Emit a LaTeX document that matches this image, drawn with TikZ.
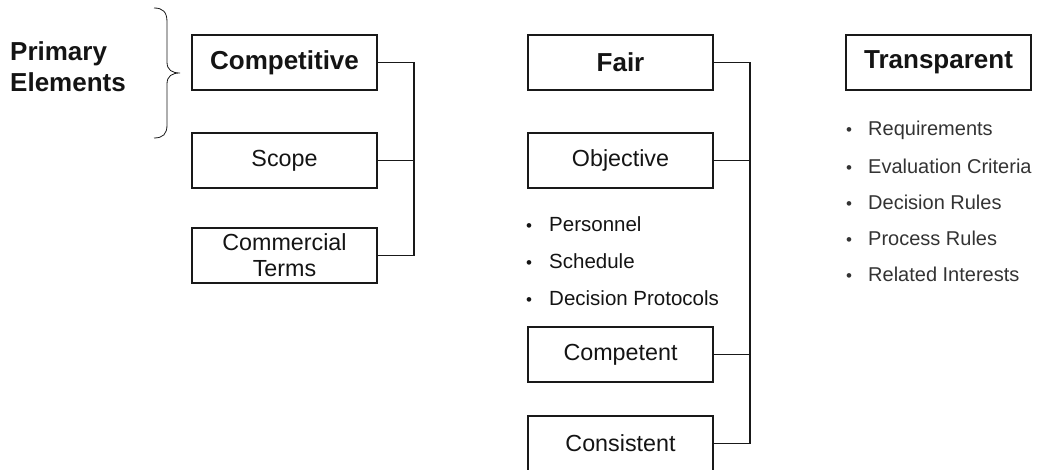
\documentclass[tikz,border=0pt]{standalone}
\usepackage{fontspec}
\setmainfont{Liberation Sans}
\begin{document}
\begin{tikzpicture}[x=1pt,y=-1pt,
  box/.style={draw=black!90,line width=1.2pt,minimum width=185pt,minimum height=55pt,inner sep=0pt,align=center,text=black!92},
  boldbox/.style={box,font=\fontsize{26}{30}\selectfont\bfseries},
  plainbox/.style={box,font=\fontsize{23.3}{27}\selectfont},
  link/.style={draw=black!90,line width=1.2pt},
  bul/.style={anchor=west,inner sep=0pt,font=\fontsize{20.5}{24}\selectfont,text=black!92},
  bulgray/.style={anchor=west,inner sep=0pt,font=\fontsize{20}{24}\selectfont,text=black!80},
  brace/.style={draw=black!90,line width=0.8pt}
]
\useasboundingbox (0,0) rectangle (1038,470);
% Primary elements label
\node[anchor=west,align=left,inner sep=0pt,font=\fontsize{26}{31}\selectfont\bfseries,text=black!92] (primary) at (10,67) {Primary\\Elements};
\draw[brace] (154,8) .. controls (163,8) and (167,12) .. (167,22) -- (167,62)
  .. controls (167,70) and (172,73) .. (180,73)
  .. controls (172,73) and (167,76) .. (167,84) -- (167,125)
  .. controls (167,134) and (163,138) .. (154,138);
% Left column
\node[boldbox] (competitive) at (284.5,62.5) {Competitive};
\node[plainbox] (scope) at (284.5,160.5) {Scope};
\node[plainbox,font=\fontsize{23.3}{26}\selectfont] (terms) at (284.5,255.5) {Commercial\\Terms};
\coordinate (bus1) at (414,62.5);
\draw[link] (competitive.east) -- (bus1) |- (terms.east);
\draw[link] (scope.east) -- (scope.east -| bus1);
% Middle column
\node[boldbox] (fair) at (620.5,62.5) {Fair};
\node[plainbox] (objective) at (620.5,160.5) {Objective};
\node[plainbox] (competent) at (620.5,354.5) {Competent};
\node[plainbox] (consistent) at (620.5,443.5) {Consistent};
\coordinate (bus2) at (750,62.5);
\draw[link] (fair.east) -- (bus2) |- (consistent.east);
\draw[link] (objective.east) -- (objective.east -| bus2);
\draw[link] (competent.east) -- (competent.east -| bus2);
\node[bul] (b1) at (526,224) {\makebox[23pt][l]{\fontsize{17}{17}\selectfont•}Personnel};
\node[bul] (b2) at (526,261) {\makebox[23pt][l]{\fontsize{17}{17}\selectfont•}Schedule};
\node[bul] (b3) at (526,298) {\makebox[23pt][l]{\fontsize{17}{17}\selectfont•}Decision Protocols};
% Right column
\node[bulgray] (r1) at (846,130) {\makebox[22pt][l]{\fontsize{17}{17}\selectfont•}Requirements};
\node[boldbox] (transparent) at (938.5,62.5) {Transparent};
\node[bulgray] (r2) at (846,166) {\makebox[22pt][l]{\fontsize{17}{17}\selectfont•}Evaluation Criteria};
\node[bulgray] (r3) at (846,202) {\makebox[22pt][l]{\fontsize{17}{17}\selectfont•}Decision Rules};
\node[bulgray] (r4) at (846,238) {\makebox[22pt][l]{\fontsize{17}{17}\selectfont•}Process Rules};
\node[bulgray] (r5) at (846,274) {\makebox[22pt][l]{\fontsize{17}{17}\selectfont•}Related Interests};
\end{tikzpicture}
\end{document}
